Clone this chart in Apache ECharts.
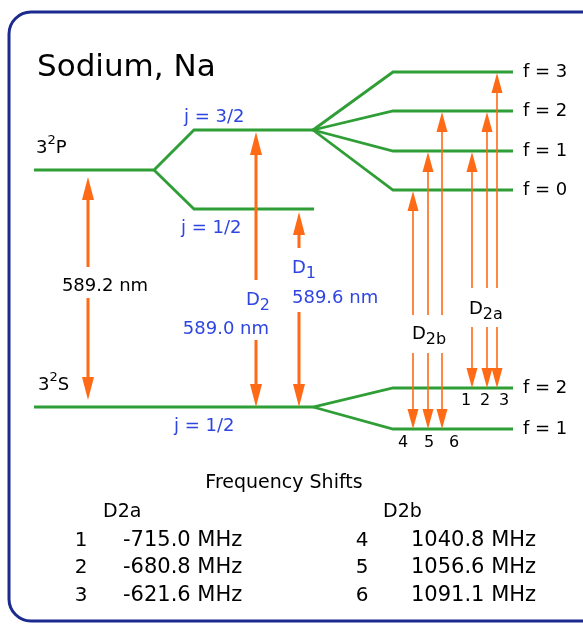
<!DOCTYPE html>
<html>
<head>
<meta charset="utf-8">
<title>Sodium, Na</title>
<script src="https://cdn.jsdelivr.net/npm/echarts@6/dist/echarts.min.js"></script>
<style>
  html, body { margin: 0; padding: 0; background: #fff; }
  #chart { width: 583px; height: 626px; }
</style>
</head>
<body>
<div id="chart"></div>
<script>
// level rows (diagram units, smaller = higher energy)
const grossLevels = ['3', '3'];
const grossTerms = ['P', 'S'];
const grossRows = [170, 407];
const fineLabels = ['j = 3/2', 'j = 1/2'];
const fineRows = [130, 209];
const upperHfLabels = ['f = 3', 'f = 2', 'f = 1', 'f = 0'];
const upperHfRows = [72, 111, 151, 190];
const lowerHfLabels = ['f = 2', 'f = 1'];
const lowerHfRows = [388, 429];

// where each stage of the splitting starts and ends
const grossCols = [34, 154];
const fineCols = [194, 313];
const hfCols = [393, 513];

// transitions: column, upper tip, lower tip, label break
const mainCols = [88, 256, 299];
const mainTop = [177, 132, 212];
const mainBottom = [400, 407, 407];
const mainGap = [[267, 298], [280, 340], [248, 312]];

const d2aCols = [472, 487, 497];
const d2aTop = [152, 112, 73];
const d2aGap = [288, 327];
const d2bCols = [413, 428, 442];
const d2bTop = [191, 152, 112];
const d2bGap = [315, 353];

// frequency shifts (MHz)
const d2aIndex = [1, 2, 3];
const d2aShift = [-715.0, -680.8, -621.6];
const d2bIndex = [4, 5, 6];
const d2bShift = [1040.8, 1056.6, 1091.1];

const GREEN = '#2f9e36';
const ORANGE = '#ff6a16';
const BLUE = '#2f45e0';
const INK = '#000';
const FONT = 'DejaVu Sans';

// level polylines
const paths = [];
paths.push([[grossCols[0], grossRows[0]], [grossCols[1], grossRows[0]], [fineCols[0], fineRows[0]], [fineCols[1], fineRows[0]]]);
paths.push([[grossCols[1], grossRows[0]], [fineCols[0], fineRows[1]], [fineCols[1] + 1, fineRows[1]]]);
upperHfRows.forEach(r => paths.push([[fineCols[1], fineRows[0]], [hfCols[0], r], [hfCols[1], r]]));
paths.push([[grossCols[0], grossRows[1]], [fineCols[1], grossRows[1]], [hfCols[0], lowerHfRows[0]], [hfCols[1], lowerHfRows[0]]]);
paths.push([[fineCols[1], grossRows[1]], [hfCols[0], lowerHfRows[1]], [hfCols[1], lowerHfRows[1]]]);

// arrows
const arrows = [];
mainCols.forEach((x, i) => arrows.push({ x: x, top: mainTop[i], bottom: mainBottom[i], gap: mainGap[i], w: 3, hw: 12, hl: 23 }));
d2aCols.forEach((x, i) => arrows.push({ x: x, top: d2aTop[i], bottom: lowerHfRows[0], gap: d2aGap, w: 1.6, hw: 11, hl: 20 }));
d2bCols.forEach((x, i) => arrows.push({ x: x, top: d2bTop[i], bottom: lowerHfRows[1], gap: d2bGap, w: 1.6, hw: 11, hl: 20 }));

// text annotations
const rich = {
  b: { fontFamily: FONT, fontSize: 18, lineHeight: 28 },
  s: { fontFamily: FONT, fontSize: 13, lineHeight: 13, verticalAlign: 'top' },
  sub: { fontFamily: FONT, fontSize: 16, lineHeight: 16, verticalAlign: 'bottom' }
};
const notes = [];
notes.push({ at: [37, 68], text: 'Sodium, Na', size: 31, color: INK });
notes.push({ at: [36, 148], text: '{b|' + grossLevels[0] + '}{s|2}{b|' + grossTerms[0] + '}', color: INK });
notes.push({ at: [38, 385], text: '{b|' + grossLevels[1] + '}{s|2}{b|' + grossTerms[1] + '}', color: INK });
notes.push({ at: [184, 117], text: fineLabels[0], color: BLUE });
notes.push({ at: [181, 228], text: fineLabels[1], color: BLUE });
notes.push({ at: [174, 426], text: fineLabels[1], color: BLUE });
upperHfLabels.forEach((t, i) => notes.push({ at: [523, upperHfRows[i]], text: t, color: INK }));
lowerHfLabels.forEach((t, i) => notes.push({ at: [523, lowerHfRows[i]], text: t, color: INK }));
notes.push({ at: [105, 286], text: '589.2 nm', color: INK, align: 'center' });
notes.push({ at: [246, 300], text: '{b|D}{sub|2}', color: BLUE });
notes.push({ at: [269, 329], text: '589.0 nm', color: BLUE, align: 'right' });
notes.push({ at: [292, 268], text: '{b|D}{sub|1}', color: BLUE });
notes.push({ at: [292, 298], text: '589.6 nm', color: BLUE });
notes.push({ at: [412, 334], text: '{b|D}{sub|2b}', color: INK });
notes.push({ at: [469, 309], text: '{b|D}{sub|2a}', color: INK });
[466, 485, 504].forEach((x, i) => notes.push({ at: [x, 401], text: String(d2aIndex[i]), size: 16, color: INK, align: 'center' }));
[403, 429, 454].forEach((x, i) => notes.push({ at: [x, 443], text: String(d2bIndex[i]), size: 16, color: INK, align: 'center' }));
notes.push({ at: [284, 483], text: 'Frequency Shifts', size: 19, color: INK, align: 'center' });
notes.push({ at: [103, 512], text: 'D2a', size: 19, color: INK });
notes.push({ at: [383, 512], text: 'D2b', size: 19, color: INK });
const tableRows = [541, 568, 596];
tableRows.forEach((y, i) => {
  notes.push({ at: [81, y], text: String(d2aIndex[i]), size: 20, color: INK, align: 'center' });
  notes.push({ at: [123, y], text: d2aShift[i].toFixed(1) + ' MHz', size: 21, color: INK });
  notes.push({ at: [362, y], text: String(d2bIndex[i]), size: 20, color: INK, align: 'center' });
  notes.push({ at: [411, y], text: d2bShift[i].toFixed(1) + ' MHz', size: 21, color: INK });
});

const chart = echarts.init(document.getElementById('chart'));

chart.setOption({
  animation: false,
  backgroundColor: '#fff',
  grid: { left: 0, right: 0, top: 0, bottom: 0 },
  xAxis: { type: 'value', min: 0, max: 583, show: false },
  yAxis: { type: 'value', min: 0, max: 626, inverse: true, show: false },
  graphic: [{
    type: 'rect',
    silent: true,
    z: -1,
    shape: { x: 9, y: 12, width: 610, height: 609, r: 22 },
    style: { fill: 'none', stroke: '#1b2a8f', lineWidth: 3 }
  }],
  series: [
    {
      name: 'levels',
      type: 'custom',
      silent: true,
      data: paths.map(p => p[0]),
      encode: { x: 0, y: 1 },
      renderItem: function (params, api) {
        const pts = paths[params.dataIndex].map(p => api.coord(p));
        return {
          type: 'polyline',
          shape: { points: pts },
          style: { stroke: GREEN, lineWidth: 2.8, fill: null, lineJoin: 'miter' }
        };
      }
    },
    {
      name: 'transitions',
      type: 'custom',
      silent: true,
      data: arrows.map(a => [a.x, a.top]),
      encode: { x: 0, y: 1 },
      renderItem: function (params, api) {
        const a = arrows[params.dataIndex];
        const t = api.coord([a.x, a.top]);
        const b = api.coord([a.x, a.bottom]);
        const g0 = api.coord([a.x, a.gap[0]]);
        const g1 = api.coord([a.x, a.gap[1]]);
        const line = { stroke: ORANGE, lineWidth: a.w };
        return {
          type: 'group',
          children: [
            { type: 'line', shape: { x1: t[0], y1: t[1] + a.hl - 1, x2: g0[0], y2: g0[1] }, style: line },
            { type: 'line', shape: { x1: g1[0], y1: g1[1], x2: b[0], y2: b[1] - a.hl + 1 }, style: line },
            { type: 'polygon', shape: { points: [[t[0], t[1]], [t[0] - a.hw / 2, t[1] + a.hl], [t[0] + a.hw / 2, t[1] + a.hl]] }, style: { fill: ORANGE } },
            { type: 'polygon', shape: { points: [[b[0], b[1]], [b[0] - a.hw / 2, b[1] - a.hl], [b[0] + a.hw / 2, b[1] - a.hl]] }, style: { fill: ORANGE } }
          ]
        };
      }
    },
    {
      name: 'labels',
      type: 'custom',
      silent: true,
      data: notes.map(n => n.at),
      encode: { x: 0, y: 1 },
      renderItem: function (params, api) {
        const n = notes[params.dataIndex];
        const p = api.coord(n.at);
        return {
          type: 'text',
          x: p[0],
          y: p[1],
          style: {
            text: n.text,
            rich: rich,
            fill: n.color,
            fontFamily: FONT,
            fontSize: n.size || 18,
            align: n.align || 'left',
            verticalAlign: 'middle'
          }
        };
      }
    }
  ]
});
</script>
</body>
</html>
